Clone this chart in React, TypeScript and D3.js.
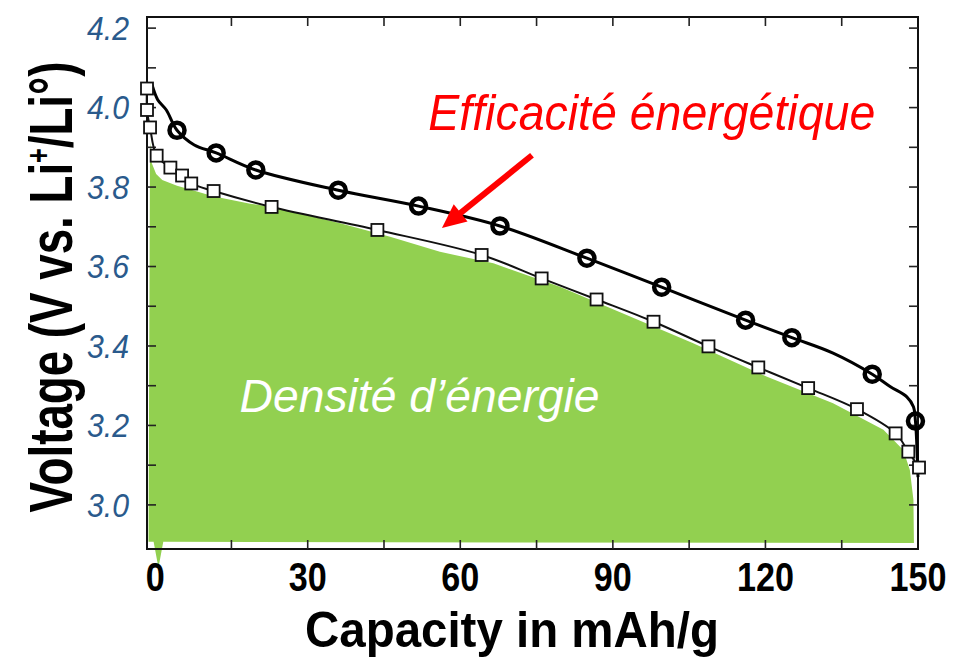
import { useEffect, useRef } from 'react';
import * as d3 from 'd3';

// open circles (charge curve), capacity in mAh/g, voltage in V
const circleCapacity = [4.3, 12.0, 19.8, 36.0, 51.8, 67.8, 84.9, 99.6, 116.1, 125.2, 141.0, 149.5];
const circleVoltage = [3.943, 3.886, 3.843, 3.792, 3.752, 3.702, 3.621, 3.548, 3.465, 3.421, 3.329, 3.211];

// fitted line running through the circles
const circleLineCapacity = [-0.6, 0.5, 2.2, 4.3, 7.7, 12.0, 19.8, 36.0, 51.8, 67.8, 84.9, 99.6, 116.1, 125.2, 133.3, 141.0, 144.5, 147.8, 149.1, 149.5, 150.0];
const circleLineVoltage = [4.057, 4.02, 3.994, 3.943, 3.906, 3.886, 3.843, 3.792, 3.752, 3.702, 3.621, 3.548, 3.465, 3.421, 3.382, 3.329, 3.298, 3.272, 3.247, 3.211, 3.07];

// open squares (discharge curve)
const squareCapacity = [-1.6, -1.6, -1.0, 0.3, 3.0, 5.3, 7.1, 11.5, 22.9, 43.7, 64.2, 76.0, 86.8, 98.0, 108.8, 118.6, 128.4, 138.0, 145.6, 148.1, 150.2];
const squareVoltage = [4.048, 3.994, 3.950, 3.879, 3.849, 3.829, 3.809, 3.790, 3.750, 3.692, 3.629, 3.570, 3.517, 3.461, 3.399, 3.346, 3.294, 3.241, 3.180, 3.134, 3.094];

// green "energy density" patch outline
const greenCapacity = [-1.3, -1.0, -0.65, 0.2, 1.4, 4.3, 6.9, 11.4, 18.7, 23.3, 36.4, 46.2, 56.0, 66.5, 79.6, 92.7, 105.8, 120.2, 133.3, 143.2, 147.1, 148.4, 149.1, 149.2, 1.6, 0.65, -0.3];
const greenVoltage = [2.907, 3.914, 3.860, 3.833, 3.818, 3.803, 3.794, 3.777, 3.758, 3.750, 3.709, 3.675, 3.637, 3.608, 3.549, 3.478, 3.407, 3.323, 3.256, 3.189, 3.138, 3.088, 3.013, 2.904, 2.907, 2.842, 2.907];

const xTickLabels = [0, 30, 60, 90, 120, 150];
const yTickLabels = [3.0, 3.2, 3.4, 3.6, 3.8, 4.0, 4.2];

// annotations (anchored in data units)
const arrowCapacity = [74.1, 56.4];
const arrowVoltage = [3.880, 3.697];
const labelEfficiency = { text: 'Efficacité énergétique', capacity: 53.7, voltage: 3.943 };
const labelDensity = { text: 'Densité d’énergie', capacity: 16.6, voltage: 3.233 };

export default function App() {
  const svgRef = useRef<SVGSVGElement>(null);

  useEffect(() => {
    if (!svgRef.current) return;
    const svg = d3.select(svgRef.current);
    svg.selectAll('*').remove();

    const x = d3.scaleLinear().domain([-1.6, 150]).range([147, 918]);
    const y = d3.scaleLinear().domain([2.889, 4.228]).range([549, 17]);

    const pts = (xs: number[], ys: number[]) => xs.map((c, i) => [c, ys[i]] as [number, number]);

    // green patch
    const greenLine = d3.line<[number, number]>()
      .x(d => x(d[0]))
      .y(d => y(d[1]))
      .curve(d3.curveLinearClosed);
    svg.append('path')
      .attr('d', greenLine(pts(greenCapacity, greenVoltage)))
      .attr('fill', '#92d050');

    // frame
    const [x0, x1] = x.range();
    const [y0, y1] = y.range();
    svg.append('rect')
      .attr('x', x0).attr('y', y1)
      .attr('width', x1 - x0).attr('height', y0 - y1)
      .attr('fill', 'none')
      .attr('stroke', '#111')
      .attr('stroke-width', 2);

    const tickLen = 9;
    const xTicks = d3.range(15, 150, 15);
    const yTicks = y.ticks(13).filter(v => v > 2.95 && v < 4.22);
    const ticks = svg.append('g').attr('stroke', '#222').attr('stroke-width', 1.6);
    xTicks.forEach(v => {
      ticks.append('line').attr('x1', x(v)).attr('x2', x(v)).attr('y1', y0).attr('y2', y0 - tickLen);
      ticks.append('line').attr('x1', x(v)).attr('x2', x(v)).attr('y1', y1).attr('y2', y1 + tickLen);
    });
    yTicks.forEach(v => {
      ticks.append('line').attr('x1', x0).attr('x2', x0 + tickLen).attr('y1', y(v)).attr('y2', y(v));
      ticks.append('line').attr('x1', x1).attr('x2', x1 - tickLen).attr('y1', y(v)).attr('y2', y(v));
    });

    // curves
    const curve = d3.line<[number, number]>()
      .x(d => x(d[0]))
      .y(d => y(d[1]))
      .curve(d3.curveCatmullRom.alpha(0.5));

    svg.append('path')
      .attr('d', curve(pts(squareCapacity, squareVoltage)))
      .attr('fill', 'none')
      .attr('stroke', '#111')
      .attr('stroke-width', 2);

    svg.append('path')
      .attr('d', curve(pts(circleLineCapacity, circleLineVoltage)))
      .attr('fill', 'none')
      .attr('stroke', '#000')
      .attr('stroke-width', 3);

    const sq = 12;
    svg.append('g').selectAll('rect')
      .data(pts(squareCapacity, squareVoltage))
      .enter()
      .append('rect')
      .attr('x', d => x(d[0]) - sq / 2)
      .attr('y', d => y(d[1]) - sq / 2)
      .attr('width', sq)
      .attr('height', sq)
      .attr('fill', '#fff')
      .attr('stroke', '#111')
      .attr('stroke-width', 1.8);

    svg.append('g').selectAll('circle')
      .data(pts(circleCapacity, circleVoltage))
      .enter()
      .append('circle')
      .attr('cx', d => x(d[0]))
      .attr('cy', d => y(d[1]))
      .attr('r', 7.5)
      .attr('fill', 'none')
      .attr('stroke', '#000')
      .attr('stroke-width', 4.5);

    // axis labels
    svg.append('g').selectAll('text')
      .data(yTickLabels)
      .enter()
      .append('text')
      .attr('x', 129)
      .attr('y', d => y(d))
      .attr('dy', '0.36em')
      .attr('text-anchor', 'end')
      .attr('font-family', 'Liberation Sans, Arial, sans-serif')
      .attr('font-style', 'italic')
      .attr('font-size', 33)
      .attr('textLength', 42)
      .attr('lengthAdjust', 'spacingAndGlyphs')
      .attr('fill', '#2a5a8c')
      .text(d => d.toFixed(1));

    svg.append('g').selectAll('text')
      .data(xTickLabels)
      .enter()
      .append('text')
      .attr('x', d => x(d))
      .attr('y', 591)
      .attr('text-anchor', 'middle')
      .attr('font-family', 'Liberation Sans, Arial, sans-serif')
      .attr('font-weight', 'bold')
      .attr('font-size', 40)
      .attr('textLength', d => String(d).length * 19)
      .attr('lengthAdjust', 'spacingAndGlyphs')
      .attr('fill', '#000')
      .text(d => d);

    svg.append('text')
      .attr('x', 305)
      .attr('y', 647)
      .attr('font-family', 'Liberation Sans, Arial, sans-serif')
      .attr('font-weight', 'bold')
      .attr('font-size', 50)
      .attr('textLength', 414)
      .attr('lengthAdjust', 'spacingAndGlyphs')
      .text('Capacity in mAh/g');

    const yTitle = svg.append('text')
      .attr('transform', 'translate(72,287) rotate(-90)')
      .attr('text-anchor', 'middle')
      .attr('font-family', 'Liberation Sans, Arial, sans-serif')
      .attr('font-weight', 'bold')
      .attr('font-size', 62)
      .attr('textLength', 451)
      .attr('lengthAdjust', 'spacingAndGlyphs');
    yTitle.append('tspan').text('Voltage (V vs. Li');
    yTitle.append('tspan').attr('font-size', 34).attr('dy', -22).text('+');
    yTitle.append('tspan').attr('dy', 22).text('/Li°)');

    // annotations
    const arrowPts = pts(arrowCapacity, arrowVoltage);
    const [ax, ay] = [x(arrowPts[0][0]), y(arrowPts[0][1])];
    const [bx, by] = [x(arrowPts[1][0]), y(arrowPts[1][1])];
    const ang = Math.atan2(by - ay, bx - ax);
    const headLen = 24;
    const headW = 11;
    const hx = bx - headLen * Math.cos(ang);
    const hy = by - headLen * Math.sin(ang);
    svg.append('line')
      .attr('x1', ax).attr('y1', ay)
      .attr('x2', hx + 4 * Math.cos(ang)).attr('y2', hy + 4 * Math.sin(ang))
      .attr('stroke', '#ff0000')
      .attr('stroke-width', 6);
    svg.append('path')
      .attr('d', `M${bx},${by}L${hx - headW * Math.sin(ang)},${hy + headW * Math.cos(ang)}L${hx + headW * Math.sin(ang)},${hy - headW * Math.cos(ang)}Z`)
      .attr('fill', '#ff0000');

    svg.append('text')
      .attr('x', x(labelEfficiency.capacity))
      .attr('y', y(labelEfficiency.voltage))
      .attr('font-family', 'Liberation Sans, Arial, sans-serif')
      .attr('font-style', 'italic')
      .attr('font-size', 50)
      .attr('textLength', 447)
      .attr('lengthAdjust', 'spacingAndGlyphs')
      .attr('fill', '#ff0000')
      .text(labelEfficiency.text);

    svg.append('text')
      .attr('x', x(labelDensity.capacity))
      .attr('y', y(labelDensity.voltage))
      .attr('font-family', 'Liberation Sans, Arial, sans-serif')
      .attr('font-style', 'italic')
      .attr('font-size', 47)
      .attr('textLength', 360)
      .attr('lengthAdjust', 'spacingAndGlyphs')
      .attr('fill', '#ffffff')
      .text(labelDensity.text);
  }, []);

  return (
    <svg
      ref={svgRef}
      width={957}
      height={661}
      style={{ position: 'absolute', left: 0, top: 0, background: '#fff' }}
    />
  );
}
